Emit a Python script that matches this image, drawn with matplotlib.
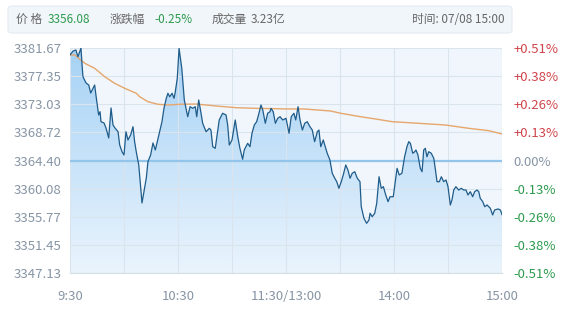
"""
Intraday index chart (price + average line) recreated from a screenshot.
"""
import matplotlib
matplotlib.use('Agg')
import matplotlib.pyplot as plt
import numpy as np
from matplotlib.colors import LinearSegmentedColormap
from matplotlib.patches import FancyBboxPatch

plt.rcParams['font.family'] = ['Noto Sans CJK SC', 'DejaVu Sans']

# minutes since 9:30 (trading time, lunch break removed)
times = [0, 1.7, 3.3, 4.4, 6.1, 6.7, 7.2, 8.9, 10.4, 11.5, 13.7, 14.4, 15.9, 16.7, 17.2,
         18.9, 20.0, 21.5, 22.8, 23.9, 25.0, 26.7, 27.6, 28.9, 30.0, 31.1, 32.2, 33.7,
         35.0, 35.9, 36.8, 38.2, 39.3, 40.0, 41.1, 42.4, 43.3, 44.8, 46.1, 47.4, 48.5,
         49.8, 51.1, 52.2, 53.5, 54.4, 55.4, 56.7, 57.8, 58.5, 59.6, 60.6, 62.1, 63.5,
         65.4, 66.7, 68.2, 69.6, 70.4, 71.5, 72.8, 73.7, 75.6, 77.4, 78.3, 79.3, 80.7,
         82.1, 82.9, 84.8, 86.7, 87.6, 88.5, 90.0, 91.8, 93.2, 94.4, 95.9, 96.8, 98.7,
         100.0, 101.1, 102.4, 103.7, 105.2, 106.1, 107.1, 108.5, 109.8, 111.1, 111.7,
         112.9, 114.1, 115.4, 116.7, 118.2, 120.0, 121.7, 122.9, 124.4, 125.4, 126.7,
         127.8, 129.1, 130.4, 131.8, 133.3, 134.6, 135.9, 137.4, 138.3, 139.3, 140.7,
         142.1, 142.9, 144.4, 145.7, 147.1, 148.2, 149.4, 150.7, 151.8, 153.2, 154.4,
         155.6, 156.8, 158.2, 159.6, 161.1, 161.8, 163.3, 164.8, 166.1, 166.7, 167.9,
         169.3, 170.4, 171.7, 172.9, 174.1, 175.4, 176.7, 177.8, 179.6, 181.7, 182.9,
         184.4, 185.9, 187.2, 188.2, 189.1, 190.4, 191.5, 192.2, 193.3, 194.6, 195.6,
         196.5, 197.4, 198.3, 199.3, 200.7, 202.1, 202.9, 203.9, 205.2, 206.3, 207.6,
         208.9, 210.0, 211.3, 212.2, 213.2, 214.4, 215.9, 217.4, 218.7, 220.0, 221.1,
         222.4, 223.7, 224.8, 226.1, 227.1, 227.9, 229.3, 230.4, 231.7, 232.6, 233.5,
         234.8, 235.9, 237.8, 239.1, 240.0]
prices = [3380.60, 3381.21, 3381.36, 3380.33, 3381.67, 3379.06, 3377.27, 3376.30, 3375.99,
          3374.76, 3375.99, 3374.46, 3371.39, 3371.89, 3370.36, 3370.16, 3369.39, 3367.86,
          3372.46, 3369.85, 3369.39, 3368.82, 3366.78, 3365.75, 3365.25, 3368.82, 3367.55,
          3368.32, 3369.59, 3367.29, 3365.75, 3363.71, 3360.13, 3357.88, 3359.61, 3361.71,
          3364.22, 3365.25, 3367.09, 3366.01, 3367.29, 3368.82, 3370.36, 3372.41, 3373.95,
          3374.72, 3374.19, 3374.72, 3373.95, 3374.96, 3377.02, 3381.62, 3378.55, 3373.69,
          3371.12, 3372.66, 3372.41, 3372.66, 3371.12, 3373.69, 3371.65, 3370.11, 3368.82,
          3369.34, 3369.08, 3366.52, 3366.27, 3369.08, 3370.62, 3371.65, 3371.39, 3369.85,
          3366.78, 3367.55, 3370.62, 3368.05, 3366.27, 3364.59, 3366.01, 3367.04, 3366.52,
          3368.58, 3369.85, 3370.36, 3371.89, 3372.92, 3372.15, 3370.11, 3371.65, 3371.89,
          3372.41, 3371.89, 3370.11, 3370.88, 3371.12, 3370.62, 3370.88, 3368.58, 3371.12,
          3371.65, 3370.62, 3372.66, 3370.62, 3369.08, 3370.11, 3370.36, 3369.59, 3369.08,
          3367.29, 3368.82, 3369.08, 3366.52, 3367.55, 3366.27, 3365.51, 3364.48, 3362.44,
          3361.67, 3361.15, 3360.13, 3361.15, 3362.18, 3363.71, 3362.94, 3361.67, 3362.44,
          3362.68, 3361.67, 3361.15, 3357.31, 3355.53, 3354.76, 3355.27, 3356.30, 3355.77,
          3356.30, 3357.83, 3361.91, 3360.13, 3360.38, 3359.11, 3358.08, 3358.84, 3358.84,
          3363.20, 3362.18, 3362.44, 3364.98, 3366.52, 3367.29, 3367.04, 3365.51, 3365.75,
          3366.01, 3365.25, 3363.20, 3362.68, 3366.01, 3366.27, 3364.98, 3365.75, 3365.51,
          3364.74, 3363.20, 3361.15, 3361.15, 3361.91, 3361.15, 3361.41, 3360.38, 3357.57,
          3358.34, 3359.87, 3360.38, 3359.87, 3360.13, 3359.87, 3359.87, 3359.11, 3359.61,
          3358.84, 3359.61, 3359.87, 3359.61, 3358.60, 3358.08, 3357.31, 3357.57, 3357.31,
          3357.07, 3356.04, 3356.80, 3356.96, 3356.80, 3356.08]

avg_times = [0, 2.6, 8.2, 13.7, 19.3, 24.8, 30.4, 36.8, 38.7, 43.3, 48.9, 54.4, 60.9, 70.0,
             81.1, 92.2, 103.3, 121.1, 130.0, 144.8, 150.4, 161.5, 170.7, 178.9, 193.7,
             208.5, 221.5, 232.6, 240.0]
avg_prices = [3380.60, 3380.60, 3379.32, 3378.55, 3377.26, 3376.25, 3375.48, 3374.72,
              3374.19, 3373.43, 3373.03, 3372.92, 3373.03, 3373.07, 3372.77, 3372.51,
              3372.41, 3372.31, 3372.31, 3372.00, 3371.65, 3371.12, 3370.73, 3370.36,
              3370.11, 3369.85, 3369.34, 3368.98, 3368.47]

prev_close = 3364.40
price_ticks = [3381.67, 3377.35, 3373.03, 3368.72, 3364.40, 3360.08, 3355.77, 3351.45, 3347.13]
pct_labels = ['+0.51%', '+0.38%', '+0.26%', '+0.13%', '0.00%', '-0.13%', '-0.26%', '-0.38%', '-0.51%']
x_ticks = [0, 60, 120, 180, 240]
x_labels = ['9:30', '10:30', '11:30/13:00', '14:00', '15:00']
grid_x = [30, 90, 150, 210]

header_items = [('价 格', 16, '#666666'), ('3356.08', 48, '#2e9b4e'),
                ('涨跌幅', 110, '#666666'), ('-0.25%', 154, '#2e9b4e'),
                ('成交量', 212, '#666666'), ('3.23亿', 251, '#666666')]
header_time = '时间: 07/08 15:00'

W, H = 575, 319
fig = plt.figure(figsize=(W / 100, H / 100), dpi=100)
fig.patch.set_facecolor('white')

# header bar
hdr = FancyBboxPatch((8 / W, 1 - 33 / H), 504 / W, 27 / H,
                     boxstyle='round,pad=0,rounding_size=0.008',
                     transform=fig.transFigure, facecolor='#f1f6fb',
                     edgecolor='#e3ebf2', linewidth=0.8)
fig.patches.append(hdr)
for txt, xp, col in header_items:
    fig.text(xp / W, 1 - 19.5 / H, txt, color=col, fontsize=8.5, va='center', ha='left')
fig.text(505 / W, 1 - 19.5 / H, header_time, color='#666666', fontsize=8.5,
         va='center', ha='right')

ax = fig.add_axes([70 / W, (H - 273) / H, 432 / W, 225 / H])
ax.set_facecolor('#f0f6fc')
ax.set_xlim(0, 240)
ax.set_ylim(price_ticks[-1], price_ticks[0])

# gradient fill under the price line
fill = ax.fill_between(times, prices, price_ticks[-1], facecolor='none', linewidth=0)
cmap = LinearSegmentedColormap.from_list('fill', ['#eaf4fd', '#a6d2f5'])
grad = np.linspace(0, 1, 256).reshape(-1, 1)
im = ax.imshow(grad, cmap=cmap, aspect='auto', origin='lower',
               extent=[0, 240, price_ticks[-1], price_ticks[0]], zorder=1)
im.set_clip_path(fill.get_paths()[0], transform=ax.transData)

for gx in grid_x + x_ticks:
    ax.axvline(gx, color='#dbe4ec', linewidth=0.8, zorder=1.5)
for gy in price_ticks:
    ax.axhline(gy, color='#dbe4ec', linewidth=0.8, zorder=1.5)
ax.axhline(prev_close, color='#93c5ea', linewidth=1.6, zorder=2)

ax.plot(avg_times, avg_prices, color='#e6a66c', linewidth=1.0, zorder=3)
ax.plot(times, prices, color='#1f5c8a', linewidth=0.9, zorder=4)

for s in ax.spines.values():
    s.set_visible(False)
ax.spines['bottom'].set_visible(True)
ax.spines['bottom'].set_color('#d5dde5')

ax.set_yticks(price_ticks)
ax.set_yticklabels([f'{v:.2f}' for v in price_ticks])
ax.set_xticks(x_ticks)
ax.set_xticklabels(x_labels)
ax.tick_params(axis='both', length=0, labelsize=9.5, labelcolor='#8795a5')
ax.tick_params(axis='y', pad=6)
ax.tick_params(axis='x', pad=12)

ax2 = ax.twinx()
ax2.set_ylim(ax.get_ylim())
ax2.set_yticks(price_ticks)
ax2.set_yticklabels(pct_labels)
ax2.tick_params(axis='y', length=0, labelsize=9.5, pad=8)
for s in ax2.spines.values():
    s.set_visible(False)
for lab, txt in zip(ax2.get_yticklabels(), pct_labels):
    if txt.startswith('+'):
        lab.set_color('#d0454c')
    elif txt.startswith('-'):
        lab.set_color('#2e9b4e')
    else:
        lab.set_color('#8795a5')

fig.savefig('out.png', dpi=100)
